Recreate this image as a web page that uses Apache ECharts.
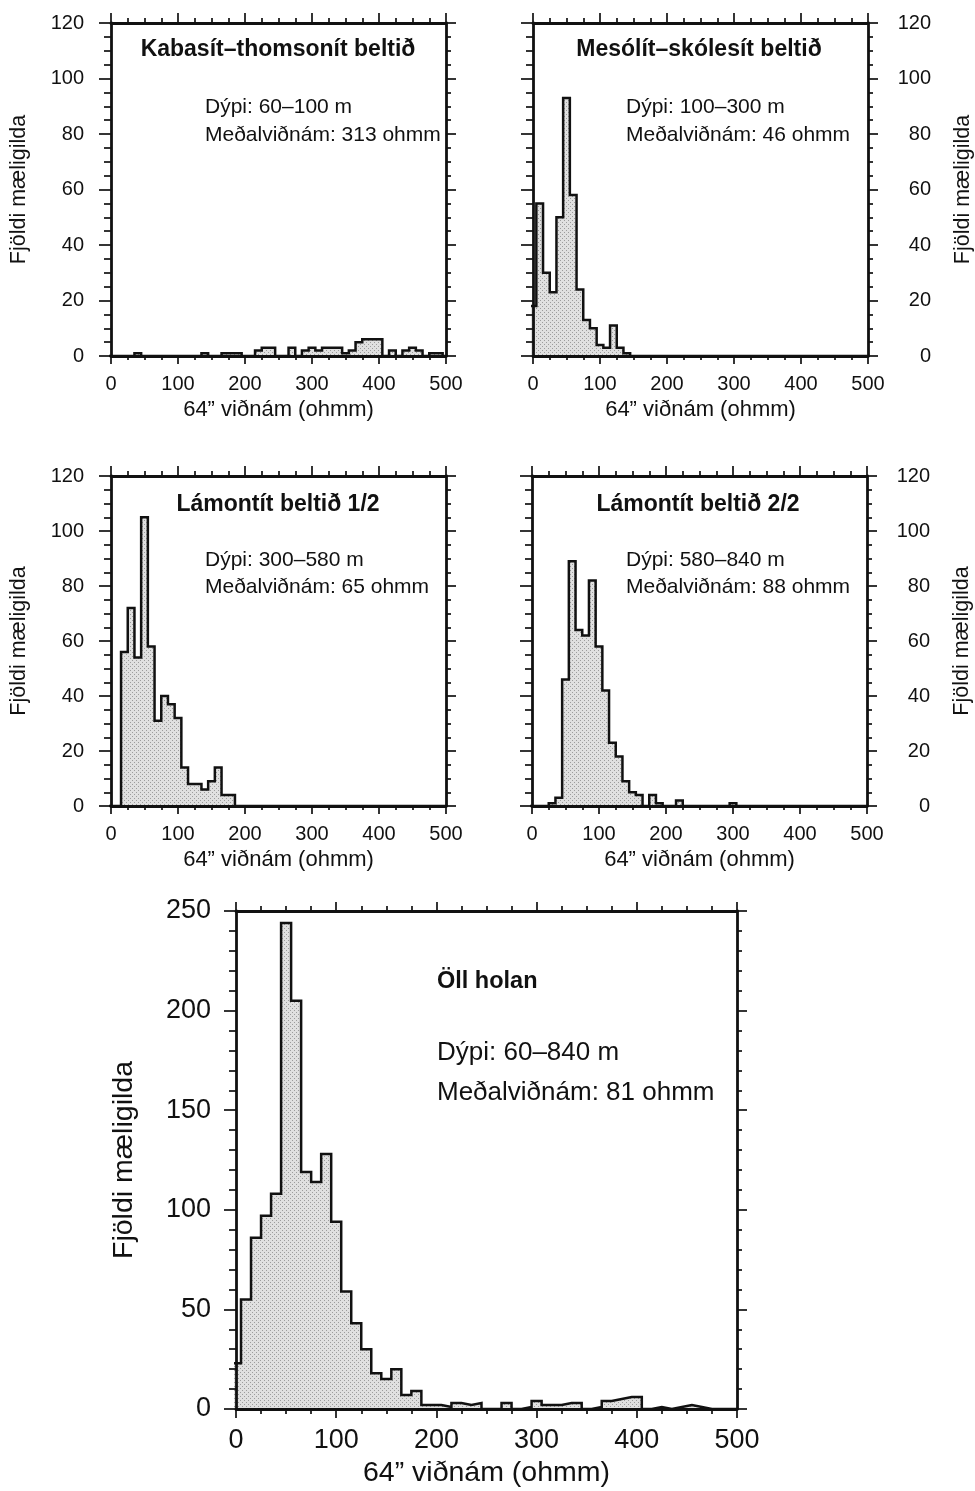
<!DOCTYPE html>
<html>
<head>
<meta charset="utf-8">
<script src="https://cdn.jsdelivr.net/npm/echarts@6/dist/echarts.min.js"></script>
<style>
  html, body { margin: 0; padding: 0; background: #fff; }
  #chart { width: 975px; height: 1491px; }
</style>
</head>
<body>
<div id="chart"></div>
<script>
// Resistivity bins (ohmm), 10 ohmm wide, labelled by their centres
const binCenters = [0, 10, 20, 30, 40, 50, 60, 70, 80, 90,
  100, 110, 120, 130, 140, 150, 160, 170, 180, 190,
  200, 210, 220, 230, 240, 250, 260, 270, 280, 290,
  300, 310, 320, 330, 340, 350, 360, 370, 380, 390,
  400, 410, 420, 430, 440, 450, 460, 470, 480, 490, 500];

// Number of readings per bin for each alteration zone
const kabasitCounts = [0, 0, 0, 0, 1, 0, 0, 0, 0, 0,
  0, 0, 0, 0, 1, 0, 0, 1, 1, 1,
  0, 0, 2, 3, 3, 0, 0, 3, 0, 2,
  3, 2, 3, 3, 3, 1, 2, 5, 6, 6,
  6, 0, 2, 0, 2, 3, 2, 0, 1, 1, 0];

const mesolitCounts = [18, 55, 30, 23, 50, 93, 58, 24, 13, 10,
  4, 3, 11, 3, 1, 0, 0, 0, 0, 0,
  0, 0, 0, 0, 0, 0, 0, 0, 0, 0,
  0, 0, 0, 0, 0, 0, 0, 0, 0, 0,
  0, 0, 0, 0, 0, 0, 0, 0, 0, 0, 0];

const lamontit1Counts = [0, 0, 56, 72, 54, 105, 58, 31, 40, 37,
  32, 14, 8, 8, 6, 9, 14, 4, 4, 0,
  0, 0, 0, 0, 0, 0, 0, 0, 0, 0,
  0, 0, 0, 0, 0, 0, 0, 0, 0, 0,
  0, 0, 0, 0, 0, 0, 0, 0, 0, 0, 0];

const lamontit2Counts = [0, 0, 0, 1, 3, 46, 89, 64, 62, 82,
  58, 42, 23, 18, 9, 5, 4, 0, 4, 1,
  0, 0, 2, 0, 0, 0, 0, 0, 0, 0,
  1, 0, 0, 0, 0, 0, 0, 0, 0, 0,
  0, 0, 0, 0, 0, 0, 0, 0, 0, 0, 0];

const allHoleCounts = [23, 55, 86, 97, 108, 244, 205, 119, 114, 128,
  94, 59, 43, 30, 18, 15, 20, 7, 9, 2,
  2, 1, 3, 2, 3, 0, 0, 3, 0, 1,
  4, 2, 2, 3, 3, 0, 1, 4, 5, 6,
  6, 0, 1, 0, 1, 2, 1, 0, 0, 0, 0];

const BIN_WIDTH = 10;

// Panel texts
const panelTitles = ['Kabasít–thomsonít beltið', 'Mesólít–skólesít beltið',
  'Lámontít beltið 1/2', 'Lámontít beltið 2/2', 'Öll holan'];
const depthTexts = ['Dýpi: 60–100 m', 'Dýpi: 100–300 m', 'Dýpi: 300–580 m',
  'Dýpi: 580–840 m', 'Dýpi: 60–840 m'];
const meanTexts = ['Meðalviðnám: 313 ohmm', 'Meðalviðnám: 46 ohmm',
  'Meðalviðnám: 65 ohmm', 'Meðalviðnám: 88 ohmm', 'Meðalviðnám: 81 ohmm'];
const xName = '64” viðnám (ohmm)';
const yName = 'Fjöldi mæligilda';

const FONT = '"Liberation Sans", Arial, Helvetica, sans-serif';
const INK = '#111';

// Stippled grey fill for the histogram areas
function stipple() {
  const c = document.createElement('canvas');
  c.width = 4; c.height = 4;
  const ctx = c.getContext('2d');
  ctx.fillStyle = '#e0e0e0';
  ctx.fillRect(0, 0, 4, 4);
  ctx.fillStyle = '#9c9c9c';
  ctx.fillRect(0, 0, 1, 1);
  ctx.fillRect(2, 2, 1, 1);
  return { image: c, repeat: 'repeat' };
}
const FILL = stipple();

// Outline of a histogram as step points: left edge of each bin at its count
function stepPoints(counts) {
  const half = BIN_WIDTH / 2;
  const pts = [[binCenters[0] - half, 0]];
  counts.forEach((v, i) => pts.push([binCenters[i] - half, v]));
  const last = binCenters.length - 1;
  pts.push([binCenters[last] + half, counts[last]]);
  pts.push([binCenters[last] + half, 0]);
  return pts;
}

// Panel frames: [left, top, width, height]
const panels = [
  { box: [111, 23, 335, 333], yMax: 120, yStep: 20, yMinor: 4, labelSide: 'left', big: false, data: kabasitCounts },
  { box: [533, 23, 335, 333], yMax: 120, yStep: 20, yMinor: 4, labelSide: 'right', big: false, data: mesolitCounts },
  { box: [111, 476, 335, 330], yMax: 120, yStep: 20, yMinor: 4, labelSide: 'left', big: false, data: lamontit1Counts },
  { box: [532, 476, 335, 330], yMax: 120, yStep: 20, yMinor: 4, labelSide: 'right', big: false, data: lamontit2Counts },
  { box: [236, 911, 501, 498], yMax: 250, yStep: 50, yMinor: 5, labelSide: 'left', big: true, data: allHoleCounts }
];

const grids = [], xAxes = [], yAxes = [], series = [];

panels.forEach((p, g) => {
  const [l, t, w, h] = p.box;
  grids.push({ left: l, top: t, width: w, height: h, containLabel: false });
  const lineStyle = { color: INK, width: 2.8 };
  const tickStyle = { color: INK, width: 1.7 };
  const tickFont = p.big ? 27 : 20;
  const nameFont = p.big ? 28.5 : 22;

  const xBase = {
    type: 'value', gridIndex: g, min: 0, max: 500, interval: 100, z: 10,
    splitLine: { show: false },
    axisLine: { show: true, onZero: false, lineStyle },
    axisTick: { show: true, length: p.big ? 9 : 8, lineStyle: tickStyle },
    minorTick: { show: true, splitNumber: 4, length: p.big ? 5 : 4, lineStyle: tickStyle }
  };
  xAxes.push(Object.assign({}, xBase, {
    position: 'bottom',
    name: xName, nameLocation: 'middle', nameGap: p.big ? 50 : 43,
    nameTextStyle: { fontFamily: FONT, fontSize: nameFont, color: INK },
    axisLabel: { fontFamily: FONT, fontSize: tickFont, color: INK, margin: p.big ? 18 : 18 }
  }));
  xAxes.push(Object.assign({}, xBase, {
    position: 'top', axisLabel: { show: false },
    axisTick: { show: true, length: p.big ? 9 : 10, lineStyle: tickStyle },
    minorTick: { show: true, splitNumber: 4, length: 5, lineStyle: tickStyle }
  }));

  const yBase = {
    type: 'value', gridIndex: g, min: 0, max: p.yMax, interval: p.yStep, z: 10,
    splitLine: { show: false },
    axisLine: { show: true, onZero: false, lineStyle },
    axisTick: { show: true, length: 12, lineStyle: tickStyle },
    minorTick: { show: true, splitNumber: p.yMinor, length: 7, lineStyle: tickStyle }
  };
  const labelled = {
    axisLabel: {
      fontFamily: FONT, fontSize: tickFont, color: INK,
      margin: p.labelSide === 'left' ? (p.big ? 25 : 27) : 63,
      align: 'right'
    },
    name: yName, nameLocation: 'middle',
    nameGap: p.big ? 97 : (p.labelSide === 'left' ? 81 : 84),
    nameTextStyle: { fontFamily: FONT, fontSize: p.big ? 28.5 : 21.5, color: INK }
  };
  const bare = { axisLabel: { show: false } };
  yAxes.push(Object.assign({}, yBase, { position: 'left' }, p.labelSide === 'left' ? labelled : bare));
  yAxes.push(Object.assign({}, yBase, { position: 'right' }, p.labelSide === 'right' ? labelled : bare,
    { axisTick: { show: true, length: 10, lineStyle: tickStyle },
      minorTick: { show: true, splitNumber: p.yMinor, length: 5, lineStyle: tickStyle } }));

  series.push({
    type: 'line', xAxisIndex: 2 * g, yAxisIndex: 2 * g,
    data: stepPoints(p.data), step: 'end',
    symbol: 'none', showSymbol: false, silent: true, clip: true, z: 3,
    lineStyle: { color: INK, width: 2.5, join: 'miter' },
    areaStyle: { color: FILL, opacity: 1 }
  });
});

// Titles and notes inside each panel
const notePlaces = [
  { title: [278, 50], note: [205, 107], gap: 28, tf: 23, nf: 21, titleAlign: 'center' },
  { title: [699, 50], note: [626, 107], gap: 28, tf: 23, nf: 21, titleAlign: 'center' },
  { title: [278, 505], note: [205, 560], gap: 27, tf: 23, nf: 21, titleAlign: 'center' },
  { title: [698, 505], note: [626, 560], gap: 27, tf: 23, nf: 21, titleAlign: 'center' },
  { title: [437, 982], note: [437, 1053], gap: 40, tf: 23.5, nf: 26, titleAlign: 'left' }
];
const graphic = [];
notePlaces.forEach((n, i) => {
  graphic.push({ type: 'text', x: n.title[0], y: n.title[1], z: 20,
    style: { text: panelTitles[i], fontFamily: FONT, fontSize: n.tf, fontWeight: 'bold',
      fill: INK, align: n.titleAlign, verticalAlign: 'middle' } });
  graphic.push({ type: 'text', x: n.note[0], y: n.note[1], z: 20,
    style: { text: depthTexts[i], fontFamily: FONT, fontSize: n.nf,
      fill: INK, align: 'left', verticalAlign: 'middle' } });
  graphic.push({ type: 'text', x: n.note[0], y: n.note[1] + n.gap, z: 20,
    style: { text: meanTexts[i], fontFamily: FONT, fontSize: n.nf,
      fill: INK, align: 'left', verticalAlign: 'middle' } });
});

const chart = echarts.init(document.getElementById('chart'), null, { renderer: 'canvas' });
chart.setOption({
  backgroundColor: '#ffffff',
  animation: false,
  grid: grids,
  xAxis: xAxes,
  yAxis: yAxes,
  series: series,
  graphic: graphic
});
</script>
</body>
</html>
